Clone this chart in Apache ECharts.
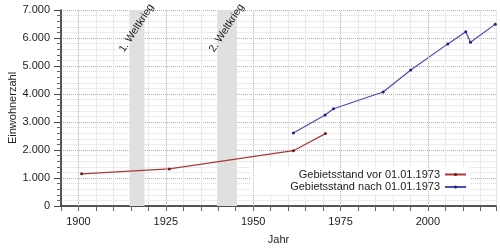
<!DOCTYPE html>
<html>
<head>
<meta charset="utf-8">
<script src="https://cdn.jsdelivr.net/npm/echarts@6/dist/echarts.min.js"></script>
<style>html,body{margin:0;padding:0;background:#fff}#c{width:500px;height:250px}</style>
</head>
<body>
<div id="c"></div>
<script>
// Data
var redName = 'Gebietsstand vor 01.01.1973';
var blueName = 'Gebietsstand nach 01.01.1973';
var redYears = [1900.9, 1926.0, 1961.5, 1970.7];
var redValues = [1150, 1325, 1975, 2585];
var blueYears = [1961.5, 1970.6, 1973.0, 1987.2, 1995.1, 2005.7, 2010.85, 2012.2, 2019.3];
var blueValues = [2607, 3250, 3475, 4071, 4857, 5790, 6220, 5846, 6495];
var majorYears = [1900, 1925, 1950, 1975, 2000];
var warNames = ['1. Weltkrieg', '2. Weltkrieg'];
var warStart = [1914.6, 1939.7];
var warEnd = [1918.9, 1945.35];

function pairs(xs, ys) { return xs.map(function (x, i) { return [x, ys[i]]; }); }
function fmtThousands(v) { return String(v).replace(/\B(?=(\d{3})+(?!\d))/g, '.'); }

var FONT = 'Liberation Sans, Arial, sans-serif';
var chart = echarts.init(document.getElementById('c'), null, { renderer: 'canvas' });
chart.setOption({
  animation: false,
  textStyle: { fontFamily: FONT },
  grid: { left: 61, right: 4, top: 10, bottom: 44, containLabel: false, outerBoundsMode: 'none' },
  xAxis: {
    type: 'value', min: 1895, max: 2019.5, interval: 5,
    name: 'Jahr', nameLocation: 'middle', nameGap: 28, nameMoveOverlap: false,
    nameTextStyle: { fontSize: 11, color: '#222', fontFamily: FONT },
    axisLine: { show: true, lineStyle: { color: '#222', width: 1.5 } },
    axisTick: { show: true, length: 5, lineStyle: { color: '#666' } },
    axisLabel: { fontSize: 11, color: '#222', margin: 10, fontFamily: FONT,
      formatter: function (v) { return (Math.abs(v % 25) < 1e-6) ? String(v) : ''; } },
    splitLine: { show: true, lineStyle: { color: '#e8e8e8', width: 1 } }
  },
  yAxis: {
    type: 'value', min: 0, max: 7000, interval: 1000,
    name: 'Einwohnerzahl', nameLocation: 'middle', nameGap: 43, nameMoveOverlap: false,
    nameTextStyle: { fontSize: 11, color: '#222', fontFamily: FONT },
    axisLine: { show: true, lineStyle: { color: '#222', width: 1.5 } },
    axisTick: { show: true, length: 7, lineStyle: { color: '#444' } },
    minorTick: { show: true, splitNumber: 5, length: 4, lineStyle: { color: '#666' } },
    minorSplitLine: { show: true, lineStyle: { color: '#ececec', width: 1 } },
    axisLabel: { fontSize: 11, color: '#222', margin: 11, fontFamily: FONT, formatter: fmtThousands },
    splitLine: { show: true, lineStyle: { color: '#b0b0b0', type: 'dotted', width: 1 } }
  },
  legend: {
    orient: 'vertical', right: 30, top: 167, align: 'right',
    itemWidth: 21, itemHeight: 4, itemGap: 1.5,
    padding: [2, 3, 2, 40],
    backgroundColor: '#fff',
    textStyle: { fontSize: 11, color: '#222', fontFamily: FONT },
    data: [redName, blueName]
  },
  series: [
    {
      name: redName, type: 'line', data: pairs(redYears, redValues),
      symbol: 'circle', symbolSize: 3, showSymbol: true,
      lineStyle: { color: '#a83a3a', width: 1.2 },
      itemStyle: { color: '#7a1515' },
      z: 3,
      markLine: {
        silent: true, symbol: ['none', 'none'], label: { show: false },
        lineStyle: { color: '#c4c4c4', type: 'dotted', width: 1 },
        data: majorYears.map(function (y) { return { xAxis: y }; })
      },
      markArea: {
        silent: true,
        itemStyle: { color: '#e0e0e0' },
        label: {
          show: true, position: ['50%', 0], align: 'center', verticalAlign: 'middle',
          rotate: 57, offset: [-15.4, 9.5], fontSize: 10.5, color: '#222', fontFamily: FONT
        },
        data: warNames.map(function (n, i) {
          return [{ name: n, xAxis: warStart[i] }, { xAxis: warEnd[i] }];
        })
      }
    },
    {
      name: blueName, type: 'line', data: pairs(blueYears, blueValues),
      symbol: 'circle', symbolSize: 3, showSymbol: true,
      lineStyle: { color: '#4b4bb5', width: 1.2 },
      itemStyle: { color: '#1f1f8a' },
      z: 3
    }
  ]
});
</script>
</body>
</html>
